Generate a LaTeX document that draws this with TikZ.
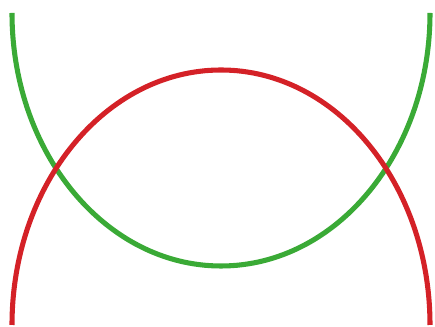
\documentclass[tikz,border=0pt]{standalone}
\usepackage{xcolor}
\definecolor{arcgreen}{RGB}{58,170,54}
\definecolor{arcred}{RGB}{212,33,39}

\begin{document}
\begin{tikzpicture}[
        x=0.025cm, y=0.025cm,
        curve/.style={line width=3.6pt},
        lower/.style={curve, draw=arcgreen},
        upper/.style={curve, draw=arcred}
    ]
        \useasboundingbox (0,0) rectangle (435,327);

        \draw[lower] (12,314) arc[start angle=180, end angle=360, x radius=209, y radius=253];
        \draw[upper] (12,2) arc[start angle=180, end angle=0, x radius=209, y radius=255];
    \end{tikzpicture}
\end{document}
